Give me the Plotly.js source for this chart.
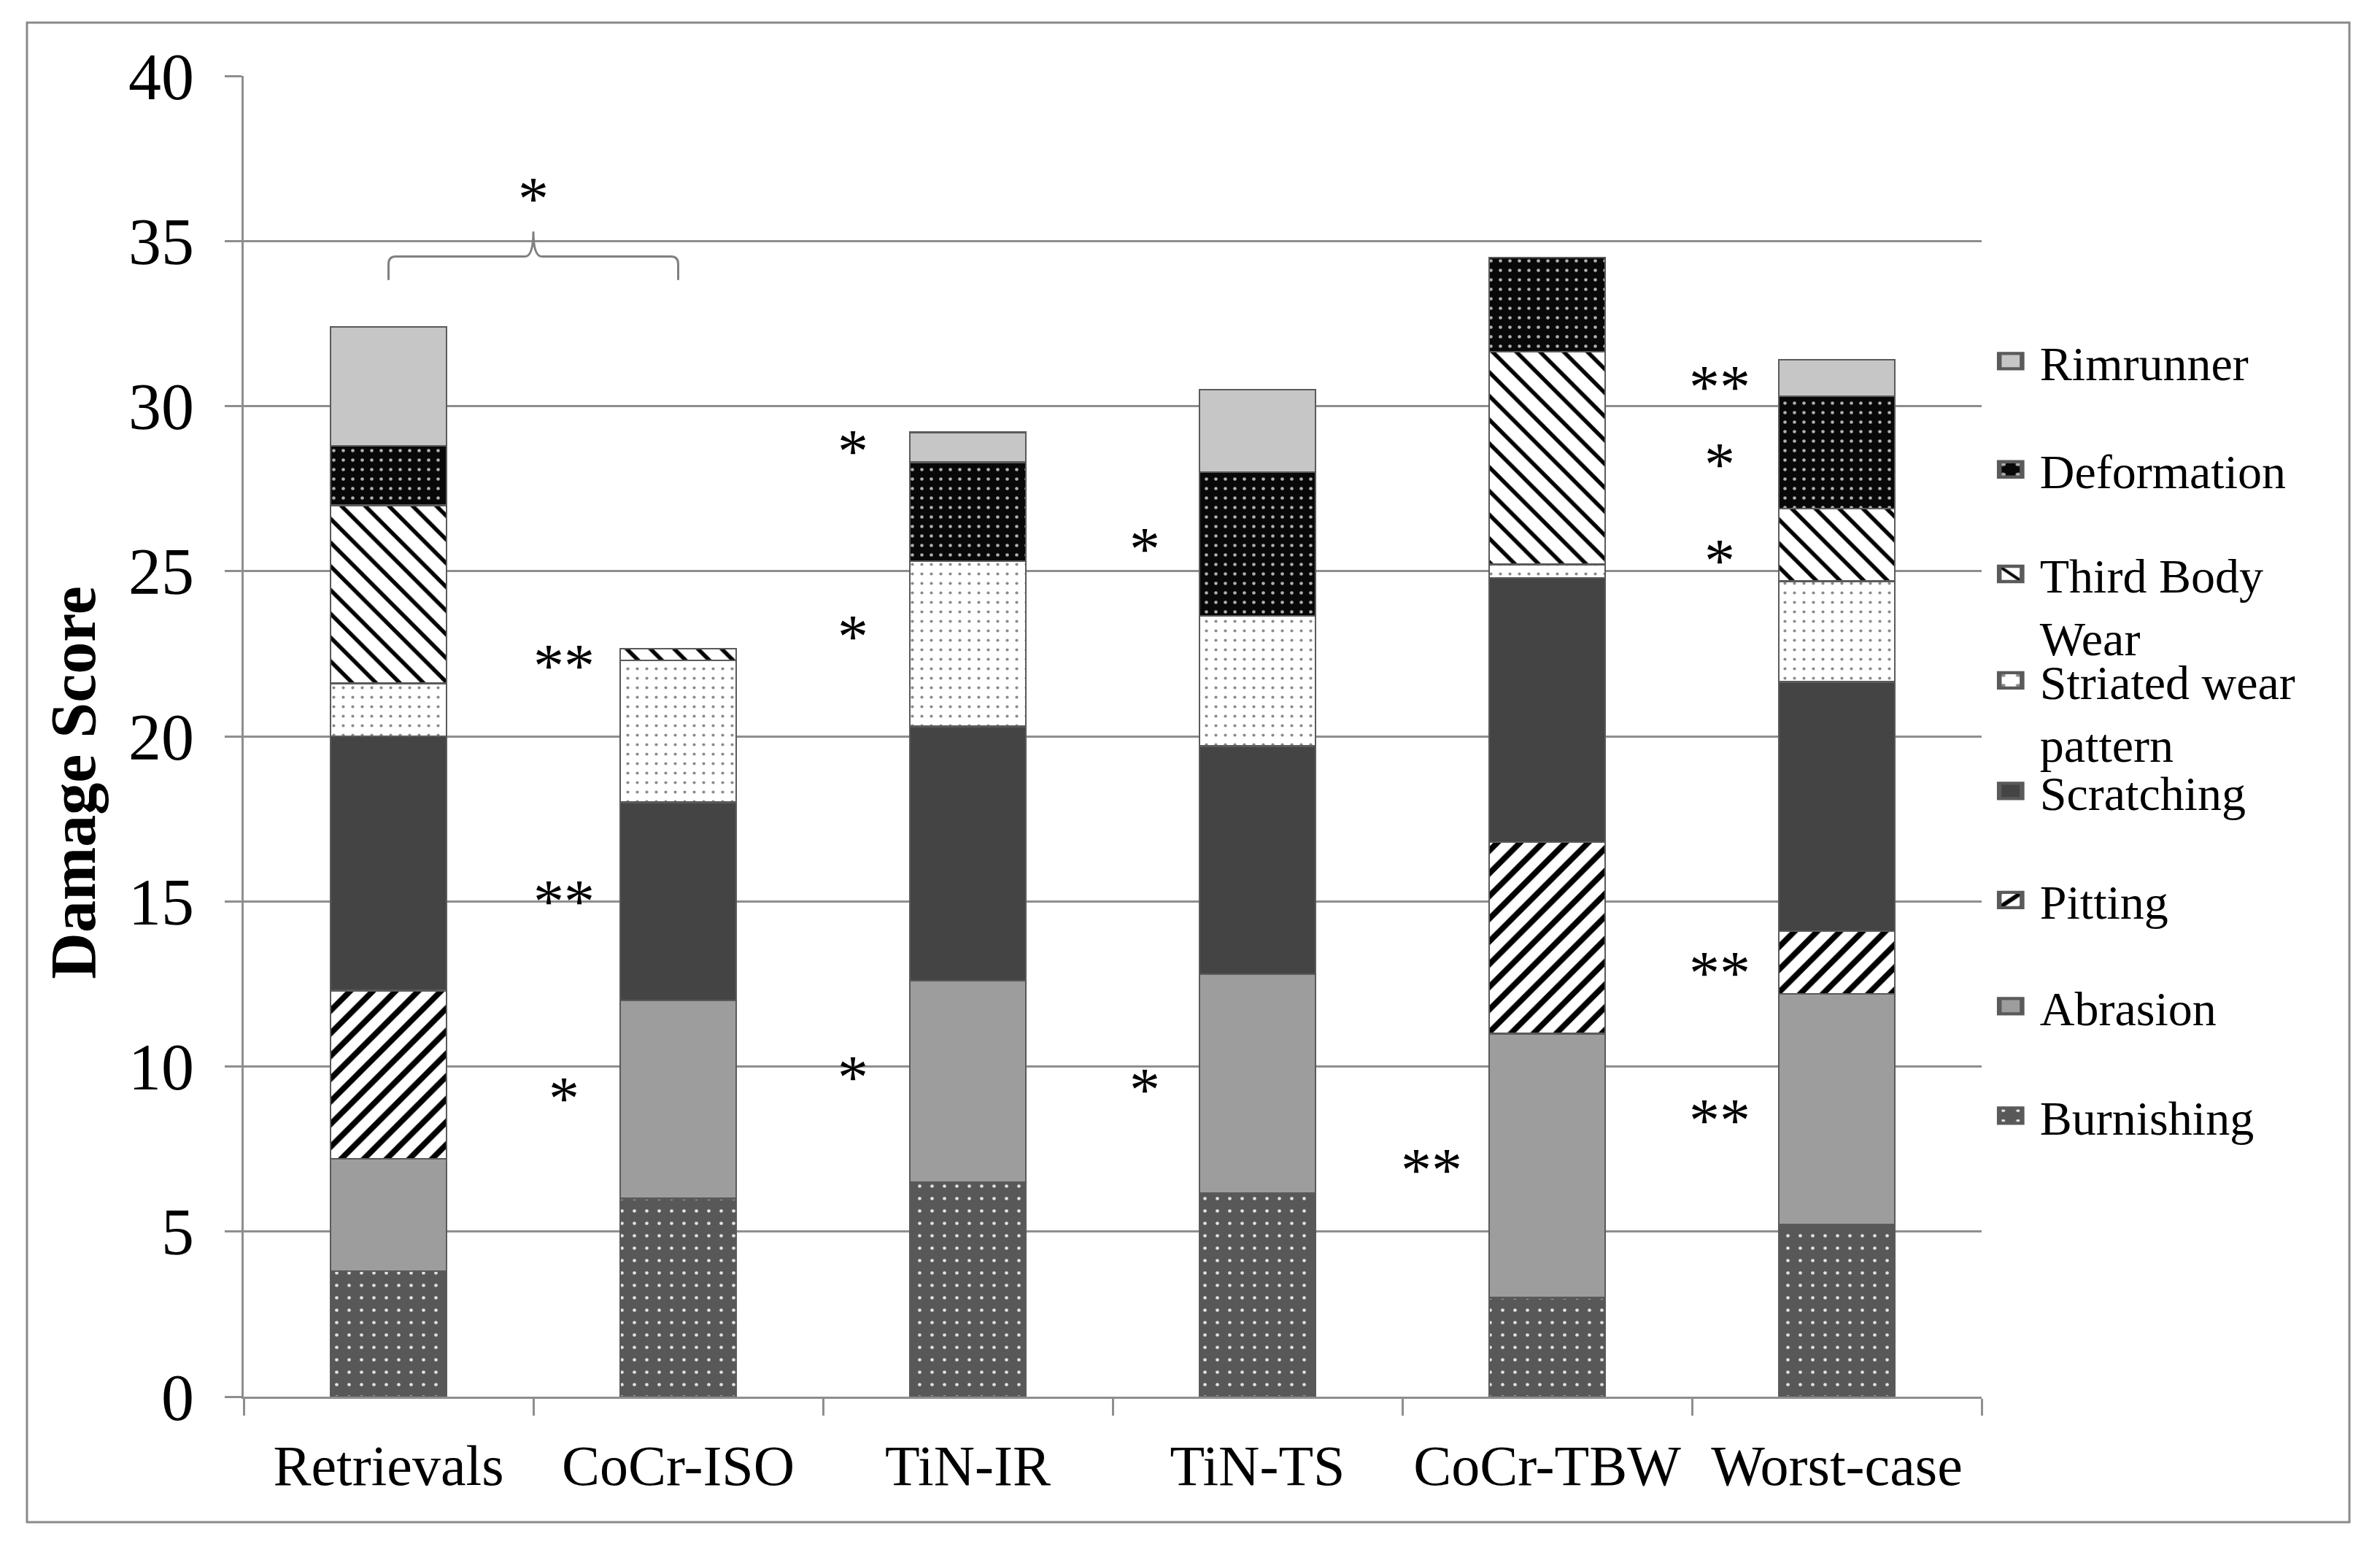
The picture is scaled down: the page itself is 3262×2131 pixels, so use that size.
<!DOCTYPE html>
<html>
<head>
<meta charset="utf-8">
<script src="https://cdn.plot.ly/plotly-3.0.1.min.js"></script>
<style>
  html, body { margin: 0; padding: 0; background: #ffffff; }
  #chart { width: 3262px; height: 2131px; }
  svg g.legendpoints path { transform: scale(2.6, 1.75) !important; }
  svg g.scrollbox { clip-path: none !important; }
</style>
</head>
<body>
<div id="chart"></div>
<script>
// ---------- data ----------
const categories = ['Retrievals', 'CoCr-ISO', 'TiN-IR', 'TiN-TS', 'CoCr-TBW', 'Worst-case'];

const burnishing  = [3.8, 6.0, 6.5, 6.15, 3.0, 5.2];
const abrasion    = [3.4, 6.0, 6.1, 6.65, 8.0, 7.0];
const pitting     = [5.1, 0, 0, 0, 5.8, 1.9];
const scratching  = [7.7, 6.0, 7.7, 6.9, 8.0, 7.55];
const striated    = [1.6, 4.3, 5.0, 3.95, 0.4, 3.05];
const thirdBody   = [5.4, 0.35, 0, 0, 6.45, 2.2];
const deformation = [1.8, 0, 3.0, 4.35, 2.85, 3.4];
const rimrunner   = [3.6, 0, 0.9, 2.5, 0, 1.1];

const seriesNames = ['Burnishing', 'Abrasion', 'Pitting', 'Scratching',
                     'Striated wear<br>pattern', 'Third Body<br>Wear', 'Deformation', 'Rimrunner'];
const seriesValues = [burnishing, abrasion, pitting, scratching, striated, thirdBody, deformation, rimrunner];

const yTitle = 'Damage Score';

// significance markers (x = category index position, y = score)
const sigX    = [0.5, 0.605, 0.605, 0.605, 1.603, 1.603, 1.603, 2.61, 2.61, 3.60, 4.595, 4.595, 4.595, 4.595, 4.595];
const sigY    = [36.46, 22.3, 15.17, 9.2, 28.8, 23.2, 9.84, 25.84, 9.47, 7.03, 30.76, 28.4, 25.5, 13.0, 8.55];
const sigText = ['*', '**', '**', '*', '*', '*', '*', '*', '*', '**', '**', '*', '*', '**', '**'];

// ---------- styles ----------
const FONT = 'Liberation Serif, Times New Roman, serif';
const GRID = '#8e8e8e';
const OUTLINE = '#5a5a5a';

const styles = [
  {color: '#585858', pattern: {shape: '.', bgcolor: '#585858', fgcolor: '#e4e4e4', size: 17, solidity: 0.06, fillmode: 'replace'}},
  {color: '#9d9d9d'},
  {color: '#ffffff', pattern: {shape: '/', bgcolor: '#ffffff', fgcolor: '#000000', size: 22, solidity: 0.36, fillmode: 'replace'}},
  {color: '#444444'},
  {color: '#ffffff', pattern: {shape: '.', bgcolor: '#ffffff', fgcolor: '#8a8a8a', size: 13, solidity: 0.08, fillmode: 'replace'}},
  {color: '#ffffff', pattern: {shape: '\\', bgcolor: '#ffffff', fgcolor: '#000000', size: 23, solidity: 0.24, fillmode: 'replace'}},
  {color: '#080808', pattern: {shape: '.', bgcolor: '#080808', fgcolor: '#b0b0b0', size: 13, solidity: 0.1, fillmode: 'replace'}},
  {color: '#c6c6c6'}
];

// legend placement (paper y of each entry)
const legendY = [0.2127, 0.2956, 0.376, 0.4586, 0.5185, 0.5991, 0.702, 0.784];

const traces = seriesValues.map((vals, i) => {
  const marker = {color: styles[i].color, line: {color: OUTLINE, width: 2.5}};
  if (styles[i].pattern) marker.pattern = styles[i].pattern;
  return {
    type: 'bar',
    name: seriesNames[i],
    x: categories,
    y: vals,
    marker: marker,
    legend: i === 0 ? 'legend' : 'legend' + (i + 1),
    hoverinfo: 'skip'
  };
});

const annotations = sigX.map((x, i) => ({
  x: x, y: sigY[i], xref: 'x', yref: 'y',
  text: sigText[i], showarrow: false,
  xanchor: 'center', yanchor: 'middle', yshift: -8,
  font: {family: FONT, size: 84, color: '#000000'}
}));
// y-axis title (placed as rotated text, slightly below the axis middle as in the original)
annotations.push({
  xref: 'paper', yref: 'paper', x: -0.098, y: 0.4646,
  xanchor: 'center', yanchor: 'middle', textangle: -90,
  text: '<b>' + yTitle + '</b>', showarrow: false,
  font: {family: FONT, size: 88, color: '#000000'}
});

const layout = {
  width: 3262,
  height: 2131,
  margin: {l: 334, r: 546, t: 104, b: 217},
  paper_bgcolor: '#ffffff',
  plot_bgcolor: '#ffffff',
  barmode: 'stack',
  bargap: 0.6,
  font: {family: FONT, color: '#000000'},
  showlegend: true,
  xaxis: {
    type: 'category',
    range: [-0.5, 5.5],
    showgrid: false,
    showline: true,
    linecolor: GRID,
    linewidth: 3,
    ticks: 'outside',
    tickson: 'boundaries',
    ticklen: 23,
    tickwidth: 3,
    tickcolor: GRID,
    tickfont: {family: FONT, size: 78, color: '#000000'},
    ticklabelstandoff: 24,
    fixedrange: true
  },
  yaxis: {
    range: [0, 40],
    dtick: 5,
    tick0: 0,
    showgrid: true,
    gridcolor: GRID,
    gridwidth: 3,
    zeroline: false,
    showline: true,
    linecolor: GRID,
    linewidth: 3,
    ticks: 'outside',
    ticklen: 23,
    tickwidth: 3,
    tickcolor: GRID,
    tickfont: {family: FONT, size: 90, color: '#000000'},
    ticklabelstandoff: 24,
    fixedrange: true
  },
  annotations: annotations,
  shapes: [
    {type: 'path', xref: 'x', yref: 'y',
     path: 'M0,33.82 L0,34.3 Q0,34.53 0.025,34.53 L0.47,34.53 Q0.5,34.53 0.5,35.29 Q0.5,34.53 0.53,34.53 L0.975,34.53 Q1,34.53 1,34.3 L1,33.82',
     line: {color: '#808080', width: 3}},
    {type: 'rect', xref: 'paper', yref: 'paper',
     x0: -0.1247, x1: 1.2116, y0: -0.095, y1: 1.0403,
     line: {color: '#8a8a8a', width: 3}, fillcolor: 'rgba(0,0,0,0)', layer: 'below'}
  ]
};

seriesNames.forEach((n, i) => {
  const key = i === 0 ? 'legend' : 'legend' + (i + 1);
  layout[key] = {
    x: 1.0167, xanchor: 'left',
    y: legendY[i], yanchor: 'middle',
    valign: 'top',
    bgcolor: 'rgba(0,0,0,0)',
    borderwidth: 0,
    font: {family: FONT, size: 66, color: '#000000'},
    itemclick: false, itemdoubleclick: false
  };
});

Plotly.newPlot('chart', traces, layout, {staticPlot: true, displayModeBar: false});
</script>
</body>
</html>
